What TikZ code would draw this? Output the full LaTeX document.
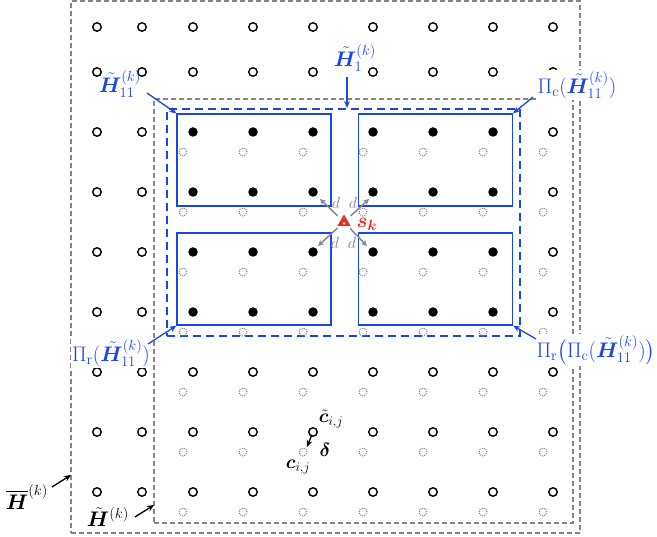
\documentclass[tikz,border=0pt]{standalone}
\usepackage{amsmath,bm}
\usetikzlibrary{arrows.meta,calc,shapes.geometric}
\definecolor{bl}{RGB}{25,70,235}
\definecolor{rd}{RGB}{232,45,35}
\definecolor{gr}{RGB}{135,135,135}
\definecolor{gd}{RGB}{120,120,120}
\tikzset{
  opendot/.style={circle,draw=black,line width=1.4pt,minimum size=8.5pt,inner sep=0pt},
  fulldot/.style={circle,fill=black,minimum size=9.5pt,inner sep=0pt},
  ghostdot/.style={circle,draw=gd,line width=1pt,dash pattern=on 1pt off 1.2pt,minimum size=8pt,inner sep=0pt},
  grayframe/.style={draw=gr,line width=1.2pt,dash pattern=on 5pt off 3pt},
  blueframe/.style={draw=bl,line width=2.4pt,dash pattern=on 8pt off 5pt},
  bluebox/.style={draw=bl,line width=1.3pt,minimum width=154pt,minimum height=92pt,inner sep=0pt},
  bluearrow/.style={draw=bl,line width=1.3pt,-{Stealth[length=7pt,width=6pt]}},
  blackarrow/.style={draw=black,line width=1.3pt,-{Stealth[length=7pt,width=6pt]}},
  grayarrow/.style={draw=gr,line width=1.5pt,-{Stealth[length=6pt,width=6pt]}},
  bluelab/.style={text=bl,fill=white,inner sep=1pt,font=\fontsize{17.28}{21}\selectfont,scale=1.22},
  blacklab/.style={text=black,fill=white,inner sep=1pt,font=\fontsize{17.28}{21}\selectfont,scale=1.22},
  dlab/.style={text=gr,inner sep=0pt,font=\fontsize{12}{14}\selectfont,scale=1.35},
  clab/.style={inner sep=0pt,font=\fontsize{17.28}{21}\selectfont,scale=1.1},
}
\begin{document}
\begin{tikzpicture}[x=1pt,y=-1pt]
\useasboundingbox (0,0) rectangle (657,537);
% frames
\node[grayframe,minimum width=509pt,minimum height=532pt,inner sep=0pt] (Hbar) at (325.5,267) {};
\node[grayframe,minimum width=419pt,minimum height=424pt,inner sep=0pt] (Htil) at (363.5,311) {};
\node[blueframe,minimum width=353pt,minimum height=227pt,inner sep=0pt] (H1) at (343.5,222.5) {};
% blue boxes
\node[bluebox] (b11) at (254,160) {};
\node[bluebox] (b12) at (435.5,160) {};
\node[bluebox] (b21) at (254,279) {};
\node[bluebox] (b22) at (435.5,279) {};
% lattice
\def\colsL{97,142,193,253,313,373,433,493,553}
\def\rowsL{27,72,132,192,252,312,372,432,492}
\foreach \x [count=\i] in \colsL {
  \foreach \y [count=\j] in \rowsL {
    \ifnum\i>2 \ifnum\j>2
      \node[ghostdot] (q-\i-\j) at (\x-10,\y+20) {};
    \fi\fi
    \pgfmathtruncatemacro{\isfull}{(\i>2)*(\i<9)*(\j>2)*(\j<7)}
    \ifnum\isfull=1
      \node[fulldot] (p-\i-\j) at (\x,\y) {};
    \else
      \node[opendot,fill=white] (p-\i-\j) at (\x,\y) {};
    \fi
  }
}
% source
\node[fill=rd,isosceles triangle,isosceles triangle apex angle=60,shape border rotate=90,inner sep=0pt,minimum height=11pt,minimum width=13pt] (sk) at (344,222) {};
\node[circle,fill=white,inner sep=0pt,minimum size=2.5pt] (skdot) at (344,223.5) {};
\node[text=rd,inner sep=0pt,font=\fontsize{17.28}{21}\selectfont,scale=1.2] (sklab) at (367,224) {$\bm{s}_{\bm{k}}$};
\coordinate (dA) at (320,199);
\coordinate (dB) at (369,199);
\coordinate (dC) at (318,246);
\coordinate (dD) at (367,246);
\draw[grayarrow,shorten <=9pt] (sk.center) -- (dA);
\draw[grayarrow,shorten <=9pt] (sk.center) -- (dB);
\draw[grayarrow,shorten <=9pt] (sk.center) -- (dC);
\draw[grayarrow,shorten <=9pt] (sk.center) -- (dD);
\node[dlab] (ldA) at (336,203) {$d$};
\node[dlab] (ldB) at (353,203) {$d$};
\node[dlab] (ldC) at (335,243) {$d$};
\node[dlab] (ldD) at (352,243) {$d$};
% labels
\node[bluelab,fill=none] (lH11) at (120,84) {$\tilde{\bm{H}}_{11}^{(k)}$};
\coordinate (aH11) at (147,93);
\draw[bluearrow] (aH11) -- (b11.north west);
\node[bluelab,fill=none] (lH1) at (355,58) {$\tilde{\bm{H}}_{1}^{(k)}$};
\coordinate (aH1) at (347,77);
\draw[bluearrow] (aH1) -- (347,108);
\node[bluelab] (lPc) at (577,85) {$\Pi_{\mathrm{c}}(\tilde{\bm{H}}_{11}^{(k)})$};
\coordinate (aPc) at (533,97);
\draw[bluearrow] (aPc) -- (b12.north east);
\node[bluelab] (lPr) at (111,353) {$\Pi_{\mathrm{r}}(\tilde{\bm{H}}_{11}^{(k)})$};
\coordinate (aPr) at (148,344);
\draw[bluearrow] (aPr) -- (b21.south west);
\node[bluelab] (lPrc) at (596,350) {$\Pi_{\mathrm{r}}\big(\Pi_{\mathrm{c}}(\tilde{\bm{H}}_{11}^{(k)})\big)$};
\coordinate (aPrc) at (536,339);
\draw[bluearrow] (aPrc) -- (b22.south east);
\node[blacklab] (lHbar) at (27,497) {$\overline{\bm{H}}^{(k)}$};
\coordinate (aHbar) at (52,487);
\draw[blackarrow] (aHbar) -- (71,475);
\node[blacklab,fill=none] (lHtil) at (108,517) {$\tilde{\bm{H}}^{(k)}$};
\coordinate (aHtil) at (135,517);
\draw[blackarrow] (aHtil) -- (154,505);
% c tilde / c / delta
\node[clab] (lct) at (331,419) {$\tilde{\bm{c}}_{i,j}$};
\node[clab] (lc) at (298,467) {$\bm{c}_{i,j}$};
\node[clab] (ldel) at (325,450) {$\bm{\delta}$};
\draw[blackarrow,shorten <=3pt,shorten >=2pt] (p-5-8.center) -- (q-5-8.north east);
\end{tikzpicture}
\end{document}
